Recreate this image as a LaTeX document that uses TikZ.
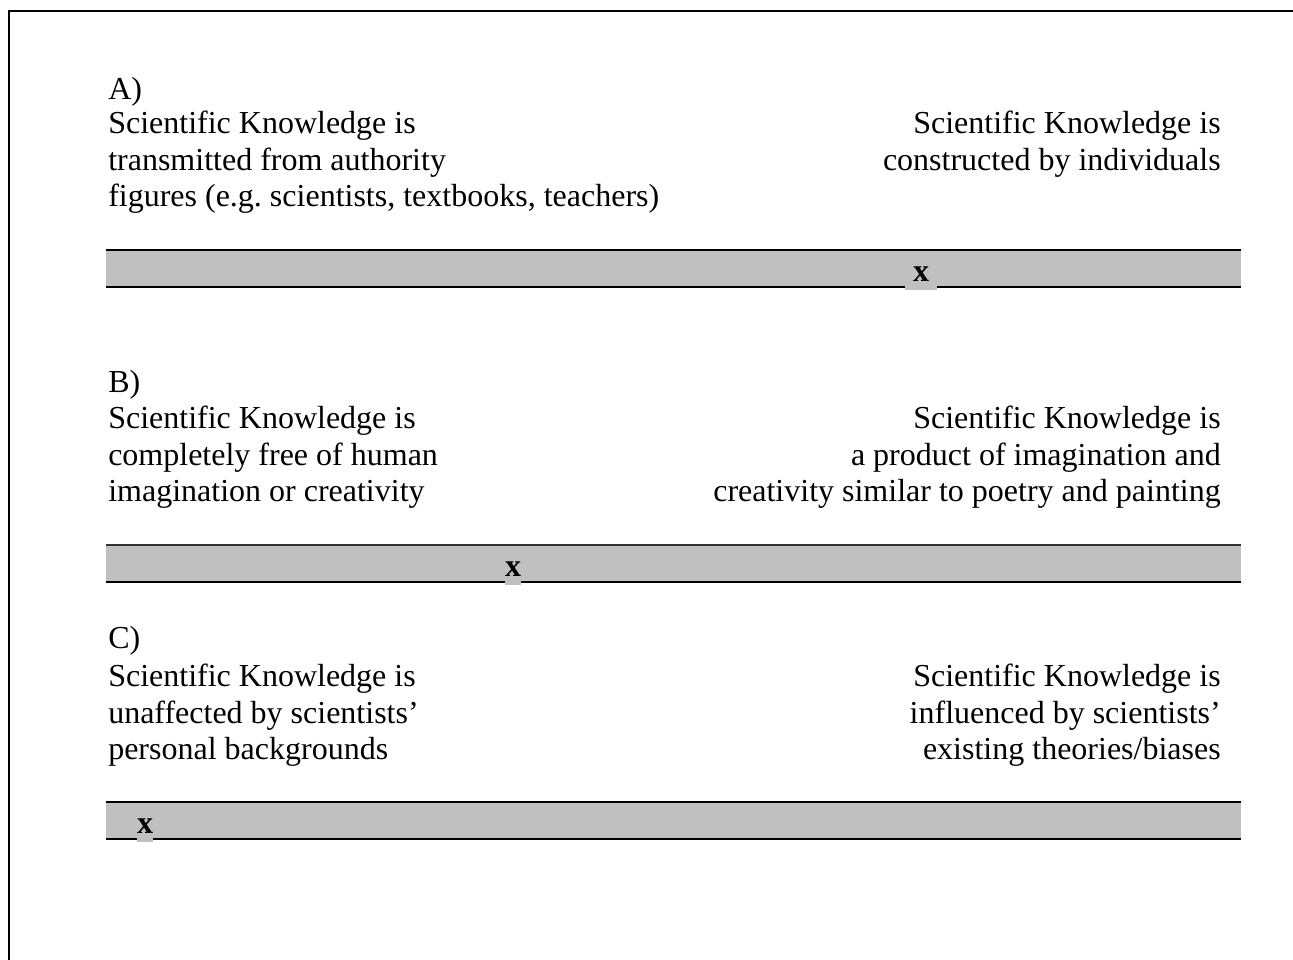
\documentclass[tikz,border=0pt]{standalone}
\usepackage{fontspec}
\setmainfont{Liberation Serif}
\usetikzlibrary{positioning}
\definecolor{bandgray}{RGB}{192,192,192}

\begin{document}
\begin{tikzpicture}[x=0.75pt,y=-0.75pt,
  txt/.style={inner sep=0pt, font=\fontsize{24}{27.4}\selectfont},
  lefttxt/.style={txt, anchor=north west, align=left},
  righttxt/.style={txt, anchor=north east, align=right},
  bandline/.style={line width=1.5pt},
  markbox/.style={fill=bandgray, inner sep=0pt, minimum width=12pt, minimum height=24pt,
    font=\fontsize{24}{28}\selectfont\bfseries}]
\useasboundingbox (0,0) rectangle (1293,960);
% outer frame
\draw[line width=1.5pt] (9,11) rectangle (1320,990);

% A)
\node[lefttxt] (labA) at (108,77) {A)};
\node[lefttxt] (leftA) at (108,111) {Scientific Knowledge is\\transmitted from authority\\figures (e.g.\ scientists, textbooks, teachers)};
\node[righttxt] (rightA) at (1221,111) {Scientific Knowledge is\\constructed by individuals};
\fill[bandgray] (106,250) rectangle (1241,287);
\draw[bandline] (106,250) -- (1241,250);
\draw[bandline] (106,287) -- (1241,287);
\node[markbox, minimum width=24pt] (xA) at (921,274) {x};

% B)
\node[lefttxt] (labB) at (108,370) {B)};
\node[lefttxt] (leftB) at (108,406) {Scientific Knowledge is\\completely free of human\\imagination or creativity};
\node[righttxt] (rightB) at (1221,406) {Scientific Knowledge is\\a product of imagination and\\creativity similar to poetry and painting};
\fill[bandgray] (106,545) rectangle (1241,582);
\draw[bandline, line width=0.8pt, black!80] (106,545) -- (1241,545);
\draw[bandline] (106,582) -- (1241,582);
\node[markbox] (xB) at (513,569) {x};

% C)
\node[lefttxt] (labC) at (108,626) {C)};
\node[lefttxt] (leftC) at (108,664) {Scientific Knowledge is\\unaffected by scientists'\\personal backgrounds};
\node[righttxt] (rightC) at (1221,664) {Scientific Knowledge is\\influenced by scientists'\\existing theories/biases};
\fill[bandgray] (106,802) rectangle (1241,839);
\draw[bandline] (106,802) -- (1241,802);
\draw[bandline] (106,839) -- (1241,839);
\node[markbox] (xC) at (145,826) {x};
\end{tikzpicture}
\end{document}
